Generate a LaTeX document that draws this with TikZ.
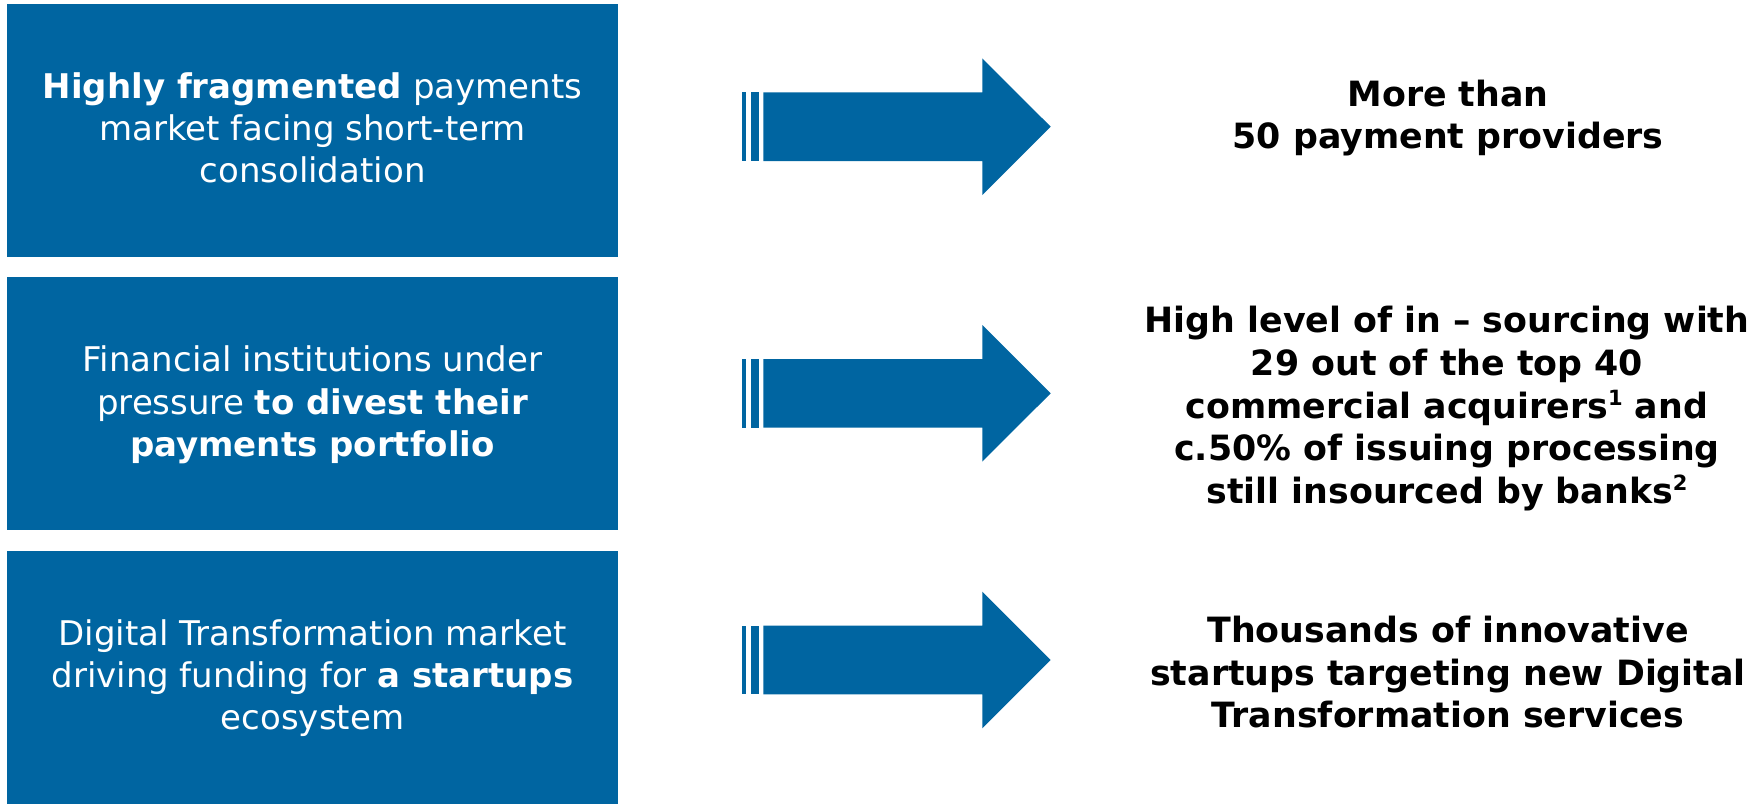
\documentclass[tikz,border=0pt]{standalone}
\usepackage{fontspec}
\setmainfont{DejaVu Sans}
\definecolor{boxblue}{RGB}{0,101,161}
\newcommand\supnum[1]{\raisebox{0.36em}{\fontsize{21}{21}\selectfont #1}}
\begin{document}
\begin{tikzpicture}[x=1pt,y=-1pt,
  lbox/.style={fill=boxblue, draw=none, minimum width=611pt, minimum height=253pt, inner sep=0, anchor=north west},
  ltext/.style={text=white, align=center, font=\fontsize{34}{42.3}\selectfont, inner sep=0, anchor=north},
  rtext/.style={text=black, align=center, font=\bfseries\fontsize{34.8}{42.6}\selectfont, inner sep=0, anchor=north},
  arrowfill/.style={fill=boxblue, draw=none}
]
\useasboundingbox (0,0) rectangle (1758,803);

\node[lbox] (b1) at (7,3.5) {};
\node[lbox] (b2) at (7,277) {};
\node[lbox] (b3) at (7,550.5) {};

\node[ltext] (t1) at (312.5,72.3) {\textbf{Highly fragmented} payments\\market facing short-term\\consolidation};
\node[ltext] (t2) at (312.5,345.8) {Financial institutions under\\pressure \textbf{to divest their}\\\textbf{payments portfolio}};
\node[ltext] (t3) at (312.5,619.3) {Digital Transformation market\\driving funding for \textbf{a startups}\\ecosystem};

\foreach \cy in {126.7,393.3,660} {
  \fill[arrowfill] (742.3,\cy-34.3) rectangle (746,\cy+34.3);
  \fill[arrowfill] (750.7,\cy-34.3) rectangle (759.3,\cy+34.3);
  \fill[arrowfill] (763.3,\cy-34.3) -- (982.3,\cy-34.3) -- (982.3,\cy-68.3) -- (1050.7,\cy)
     -- (982.3,\cy+68.3) -- (982.3,\cy+34.3) -- (763.3,\cy+34.3) -- cycle;
}

\node[rtext] (r1) at (1448,79.5) {More than\\50 payment providers};
\node[rtext] (r2) at (1447,306.2) {High level of in – sourcing with\\29 out of the top 40\\commercial acquirers\supnum{1} and\\c.50\% of issuing processing\\still insourced by banks\supnum{2}};
\node[rtext] (r3) at (1448,616) {Thousands of innovative\\startups targeting new Digital\\Transformation services};
\end{tikzpicture}
\end{document}
